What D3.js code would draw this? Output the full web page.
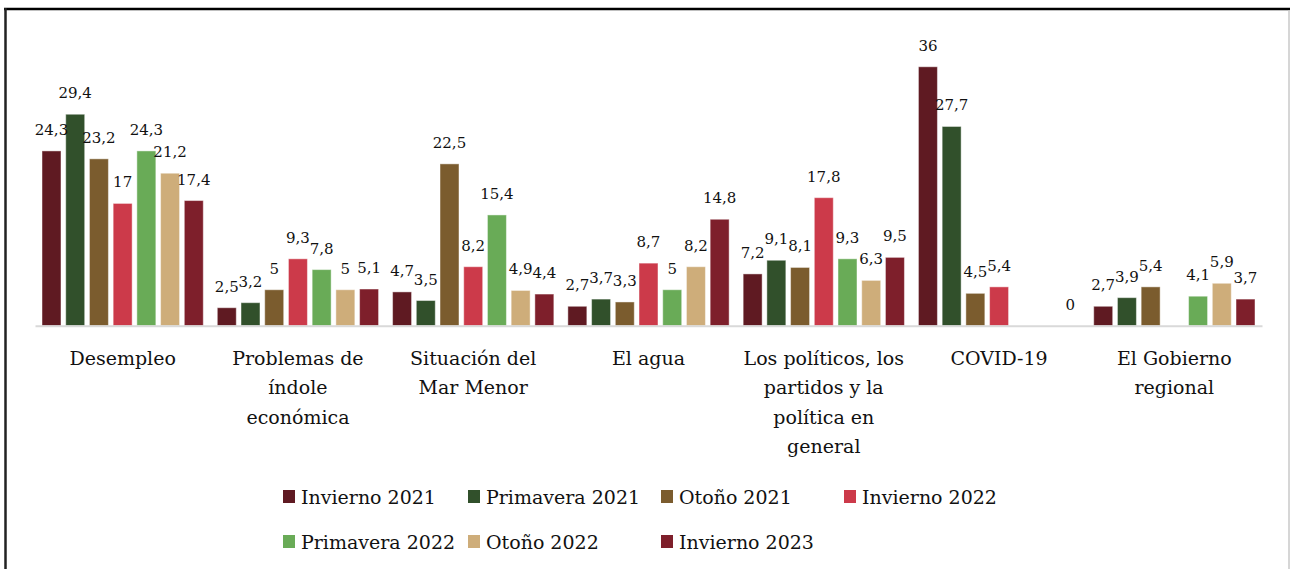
<!DOCTYPE html>
<html>
<head>
<meta charset="utf-8">
<script src="https://cdn.jsdelivr.net/npm/d3@7"></script>
<style>
  body { margin: 0; background: #fff; }
  svg text { font-family: 'DejaVu Serif', serif; fill: #111; }
</style>
</head>
<body>
<div id="main"></div>
<script>
'use strict';

// data
const categories = [
  'Desempleo',
  'Problemas de índole económica',
  'Situación del Mar Menor',
  'El agua',
  'Los políticos, los partidos y la política en general',
  'COVID-19',
  'El Gobierno regional'
];
const categoryLines = [
  ['Desempleo'],
  ['Problemas de', 'índole', 'económica'],
  ['Situación del', 'Mar Menor'],
  ['El agua'],
  ['Los políticos, los', 'partidos y la', 'política en', 'general'],
  ['COVID-19'],
  ['El Gobierno', 'regional']
];
const seriesNames = ['Invierno 2021', 'Primavera 2021', 'Otoño 2021', 'Invierno 2022',
  'Primavera 2022', 'Otoño 2022', 'Invierno 2023'];
const seriesColors = ['#5f1a22', '#31502b', '#7b5c2e', '#cc3a4a', '#69ab57', '#cead7a', '#7e1f2b'];

// one array per series, in category order (null = no bar)
const invierno2021 = [24.3, 2.5, 4.7, 2.7, 7.2, 36, 2.7];
const primavera2021 = [29.4, 3.2, 3.5, 3.7, 9.1, 27.7, 3.9];
const otono2021 = [23.2, 5, 22.5, 3.3, 8.1, 4.5, 5.4];
const invierno2022 = [17, 9.3, 8.2, 8.7, 17.8, 5.4, null];
const primavera2022 = [24.3, 7.8, 15.4, 5, 9.3, null, 4.1];
const otono2022 = [21.2, 5, 4.9, 8.2, 6.3, null, 5.9];
const invierno2023 = [17.4, 5.1, 4.4, 14.8, 9.5, 0, 3.7];
const seriesValues = [invierno2021, primavera2021, otono2021, invierno2022,
  primavera2022, otono2022, invierno2023];

// canvas
const canvas = {
  width: 1290,
  height: 569,
  plot: { left: 35, right: 1262, top: 38, bottom: 325.7 }
};

const svg = d3.select('#main')
  .append('svg')
  .attr('width', canvas.width)
  .attr('height', canvas.height);

// frame: dark top and left edge, light right edge
svg.append('line')
  .attr('x1', 4).attr('x2', 1290).attr('y1', 9).attr('y2', 9)
  .attr('stroke', '#000').attr('stroke-width', 2.5);
svg.append('line')
  .attr('x1', 5.5).attr('x2', 5.5).attr('y1', 8).attr('y2', 569)
  .attr('stroke', '#222').attr('stroke-width', 2.5);
svg.append('line')
  .attr('x1', 1289).attr('x2', 1289).attr('y1', 10).attr('y2', 569)
  .attr('stroke', '#c8c8c8').attr('stroke-width', 1.5);

// scales
const x0 = d3.scaleBand()
  .domain(categories)
  .range([canvas.plot.left, canvas.plot.right])
  .paddingInner(0.08)
  .paddingOuter(0.04);

const x1 = d3.scaleBand()
  .domain(seriesNames)
  .range([0, x0.bandwidth()])
  .paddingInner(0.2);

const y = d3.scaleLinear()
  .domain([0, 40])
  .range([canvas.plot.bottom, canvas.plot.top]);

const fmt = v => String(v).replace('.', ',');

// bars
const rows = [];
categories.forEach((c, ci) => {
  seriesNames.forEach((s, si) => {
    const v = seriesValues[si][ci];
    if (v !== null) rows.push({ c: c, s: s, si: si, v: v });
  });
});

svg.append('g')
  .selectAll('rect')
  .data(rows.filter(d => d.v > 0))
  .join('rect')
  .attr('x', d => x0(d.c) + x1(d.s))
  .attr('y', d => y(d.v))
  .attr('width', x1.bandwidth())
  .attr('height', d => y(0) - y(d.v))
  .attr('fill', d => seriesColors[d.si])
  .attr('stroke', 'rgba(255,255,255,0.45)')
  .attr('stroke-width', 1);

// axis line
svg.append('g')
  .attr('transform', 'translate(0,' + y(0) + ')')
  .call(d3.axisBottom(x0).tickSize(0).tickFormat(''))
  .call(g => g.select('.domain').attr('stroke', '#d9d9d9').attr('stroke-width', 2));

// value labels
svg.append('g')
  .selectAll('text')
  .data(rows)
  .join('text')
  .attr('x', d => x0(d.c) + x1(d.s) + x1.bandwidth() / 2)
  .attr('y', d => y(d.v) - 16)
  .attr('text-anchor', 'middle')
  .style('font-size', '15px')
  .text(d => fmt(d.v));

// category labels
const catLabels = svg.append('g')
  .selectAll('text')
  .data(categories)
  .join('text')
  .attr('text-anchor', 'middle')
  .attr('x', d => x0(d) + x0.bandwidth() / 2)
  .attr('y', 365)
  .style('font-size', '19px');

catLabels.each(function (d, i) {
  const t = d3.select(this);
  categoryLines[i].forEach((line, li) => {
    t.append('tspan')
      .attr('x', x0(d) + x0.bandwidth() / 2)
      .attr('dy', li === 0 ? 0 : 29.3)
      .text(line);
  });
});

// legend
const legendCols = [283, 468, 661, 844];
const legendRows = [504, 549];
const legend = svg.append('g')
  .selectAll('g')
  .data(seriesNames)
  .join('g')
  .attr('transform', (d, i) => 'translate(' + legendCols[i % 4] + ',' + legendRows[Math.floor(i / 4)] + ')');

legend.append('rect')
  .attr('x', 0)
  .attr('y', -14)
  .attr('width', 12)
  .attr('height', 13)
  .attr('fill', (d, i) => seriesColors[i]);

legend.append('text')
  .attr('x', 18)
  .attr('y', 0)
  .style('font-size', '19px')
  .text(d => d);
</script>
</body>
</html>
